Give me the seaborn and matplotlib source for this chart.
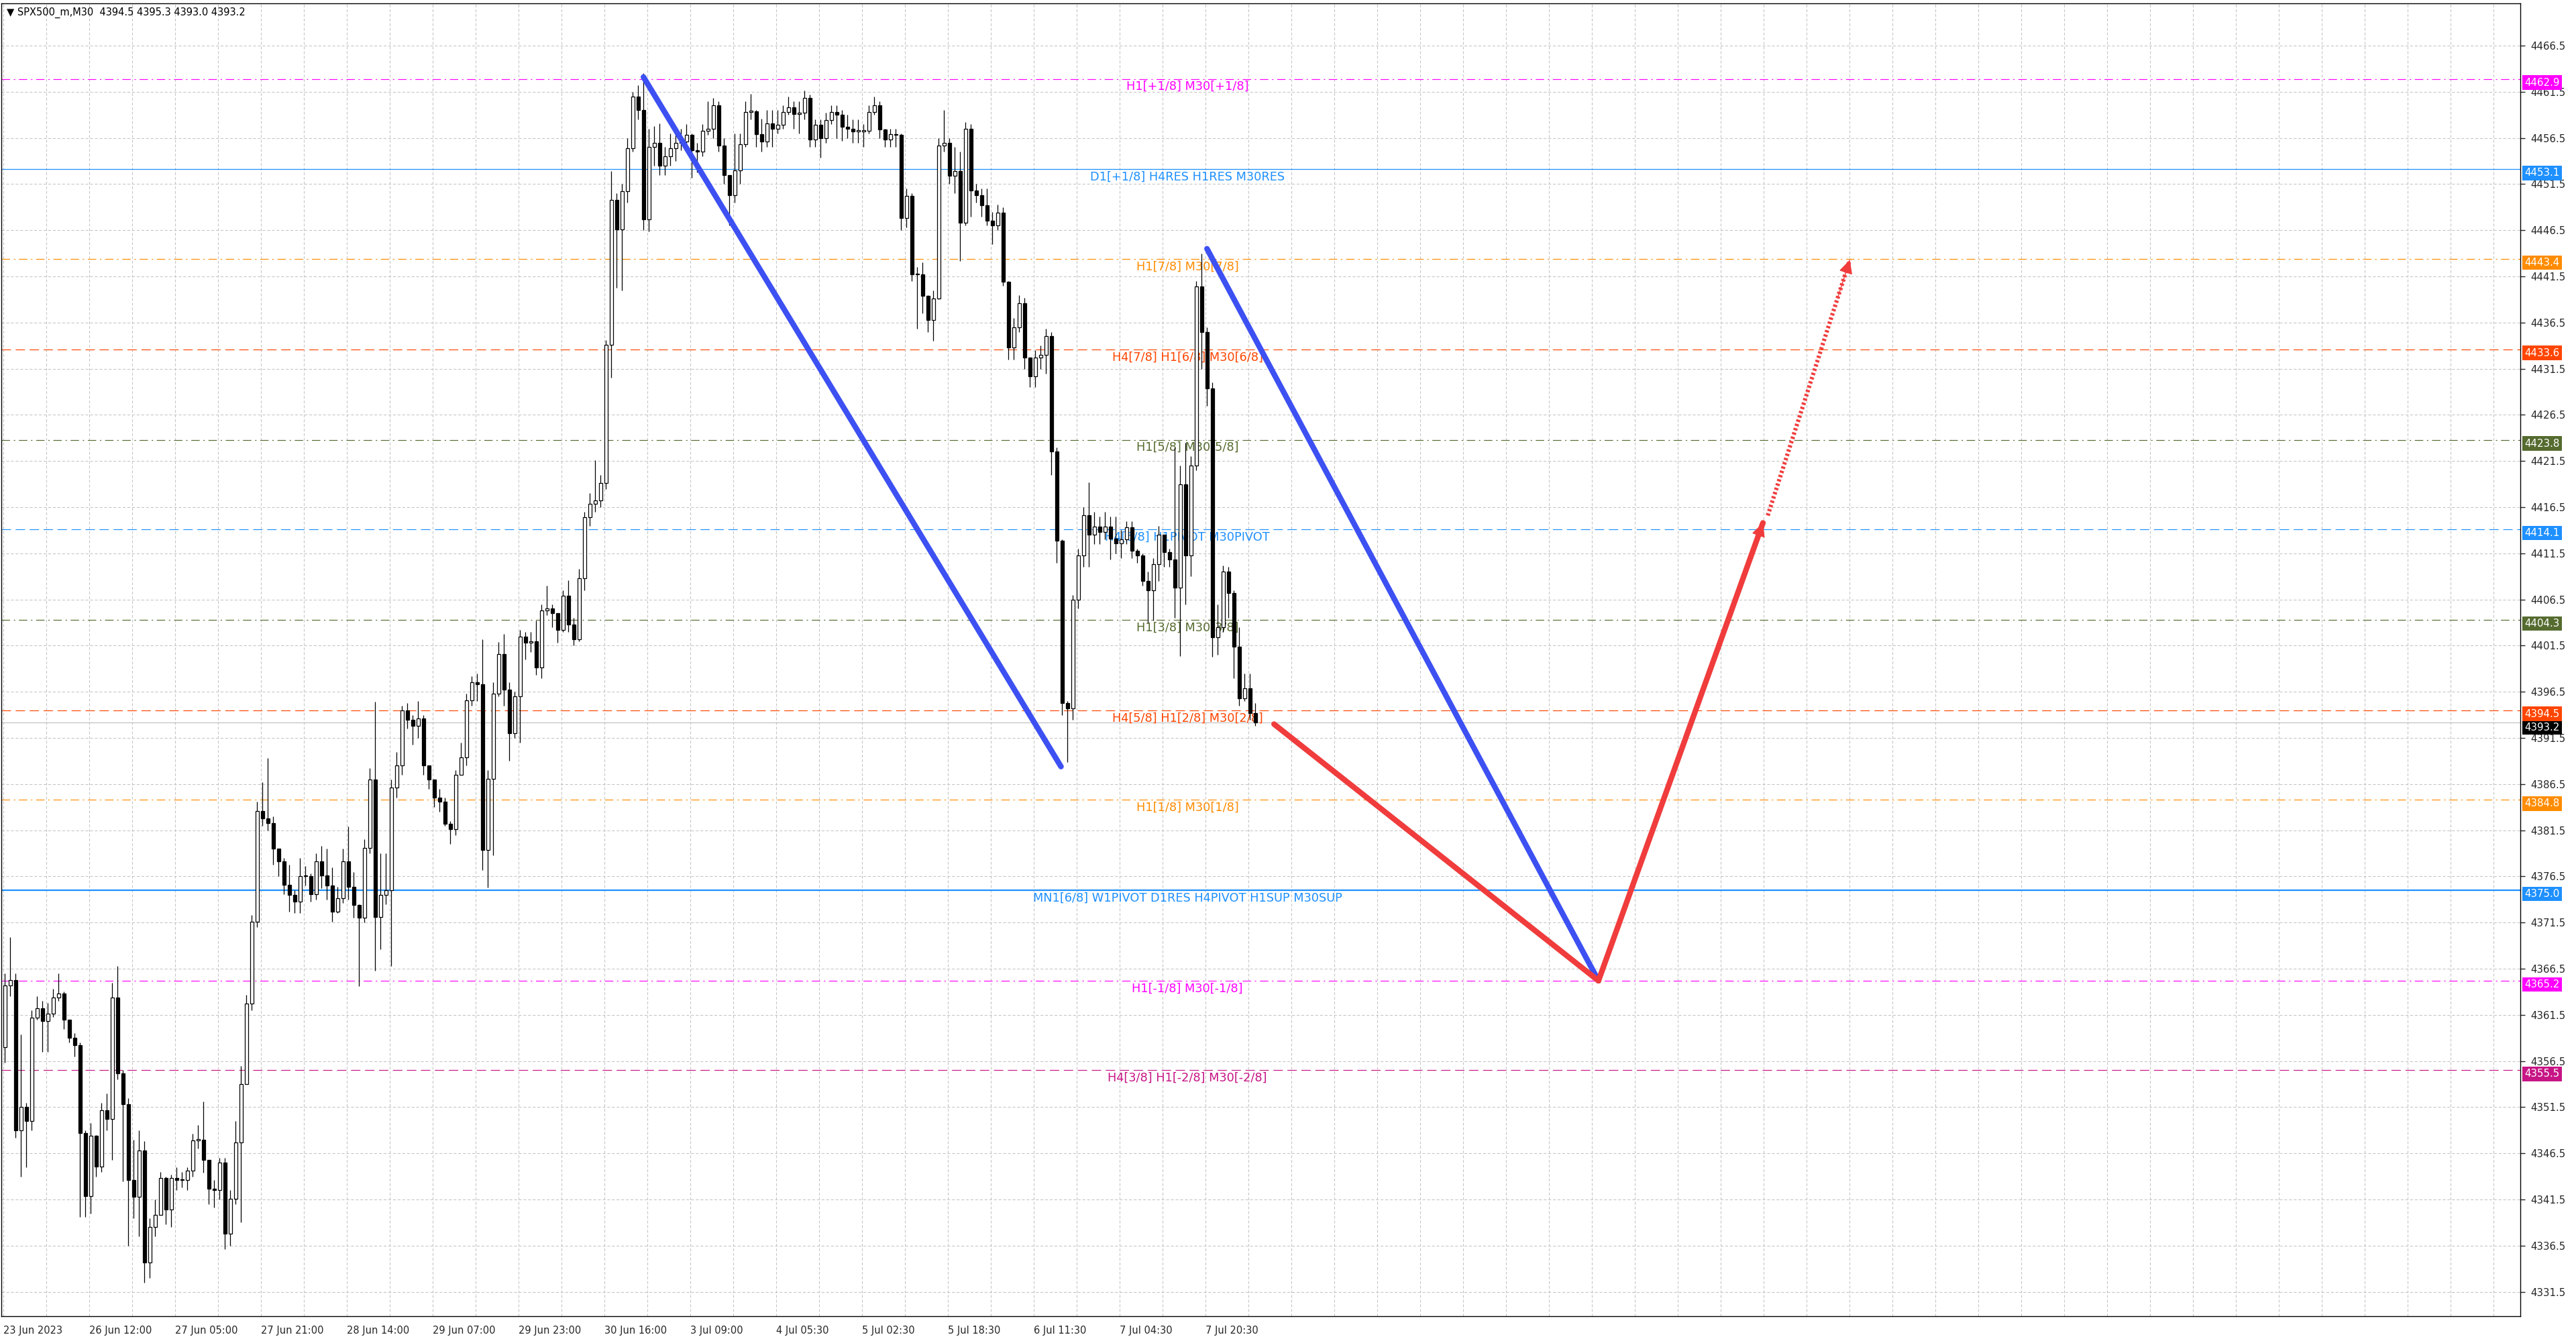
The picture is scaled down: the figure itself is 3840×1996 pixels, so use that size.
import matplotlib
matplotlib.use("Agg")
import matplotlib.pyplot as plt
import matplotlib.transforms as mtransforms
import numpy as np
import seaborn as sns

# SPX500_m M30 candles (two M30 bars per drawn candle)
first_open = 4358.0
closes = [
    4364.7, 4365.3, 4349.0, 4351.5, 4350.0, 4361.2, 4362.2, 4360.8, 4361.6, 4363.4,
    4363.8, 4361.0, 4359.0, 4358.2, 4348.7, 4341.9, 4348.4, 4345.1, 4351.2, 4350.2,
    4363.4, 4355.2, 4351.8, 4343.6, 4341.8, 4346.8, 4334.7, 4338.5, 4339.8, 4343.8,
    4340.4, 4343.8, 4343.6, 4343.6, 4344.6, 4347.9, 4348.0, 4345.8, 4342.7, 4342.5,
    4345.5, 4337.8, 4341.6, 4347.7, 4354.0, 4362.7, 4371.6, 4383.6, 4382.8, 4382.3,
    4379.5, 4378.1, 4375.6, 4374.5, 4373.8, 4376.5, 4376.5, 4374.6, 4378.1, 4376.6,
    4375.5, 4372.7, 4374.1, 4378.1, 4375.4, 4373.4, 4372.0, 4379.6, 4387.0, 4372.1,
    4374.5, 4375.0, 4386.1, 4388.5, 4394.5, 4393.5, 4392.8, 4393.6, 4388.5, 4387.0,
    4385.0, 4384.6, 4382.2, 4381.6, 4387.5, 4389.4, 4395.6, 4397.5, 4397.3, 4379.4,
    4387.1, 4396.3, 4400.6, 4396.7, 4392.0, 4396.0, 4402.5, 4401.8, 4402.0, 4399.1,
    4405.3, 4405.5, 4405.0, 4403.2, 4406.9, 4403.8, 4402.2, 4408.8, 4415.4, 4416.9,
    4417.2, 4419.1, 4434.1, 4449.8, 4446.6, 4450.7, 4455.4, 4461.0, 4459.5, 4447.7,
    4455.5, 4456.0, 4453.5, 4454.5, 4455.4, 4456.0, 4456.1, 4456.8, 4455.2, 4455.0,
    4457.3, 4457.5, 4460.0, 4455.7, 4452.5, 4450.3, 4453.0, 4455.8, 4459.3, 4459.4,
    4456.9, 4456.1, 4458.1, 4457.5, 4457.9, 4459.3, 4459.8, 4459.1, 4459.2, 4460.8,
    4456.3, 4457.9, 4456.5, 4458.4, 4459.3, 4459.0, 4457.7, 4457.5, 4457.2, 4457.2,
    4457.3, 4459.3, 4460.0, 4457.4, 4456.3, 4456.9, 4456.8, 4447.8, 4450.2, 4441.7,
    4441.7, 4439.4, 4436.8, 4439.1, 4455.7, 4456.0, 4452.4, 4452.9, 4447.3, 4457.5,
    4450.8, 4450.3, 4449.2, 4447.5, 4447.0, 4448.4, 4440.9, 4433.8, 4436.0, 4438.6,
    4432.7, 4430.7, 4432.7, 4433.0, 4435.0, 4422.5, 4412.9, 4395.3, 4394.7, 4406.5,
    4411.3, 4415.6, 4413.5, 4414.4, 4413.8, 4414.4, 4413.1, 4412.6, 4413.0, 4414.3,
    4411.8, 4411.3, 4408.5, 4407.5, 4410.3, 4413.5, 4411.6, 4410.8, 4407.8, 4419.0,
    4411.3, 4421.0, 4440.4, 4435.5, 4429.4, 4402.4, 4403.5, 4409.5, 4407.2, 4401.4,
    4395.8, 4396.9, 4394.2, 4393.2,
]
highs = [
    4366.0, 4369.9, 4366.0, 4359.4, 4352.0, 4362.0, 4363.5, 4363.0, 4362.8, 4364.3,
    4366.0, 4364.0, 4361.0, 4359.5, 4358.5, 4349.0, 4349.8, 4348.5, 4352.0, 4353.0,
    4365.0, 4366.8, 4355.5, 4352.5, 4348.0, 4349.0, 4347.8, 4339.5, 4341.5, 4344.5,
    4344.0, 4344.2, 4345.0, 4344.5, 4345.0, 4348.6, 4349.6, 4352.1, 4345.5, 4343.6,
    4346.0, 4346.0, 4342.5, 4350.0, 4356.0, 4363.7, 4372.3, 4384.6, 4386.7, 4389.3,
    4383.0, 4379.5, 4378.5, 4377.8, 4375.0, 4378.5, 4377.6, 4376.8, 4379.0, 4379.8,
    4379.5, 4377.5, 4375.4, 4379.5, 4381.9, 4377.0, 4373.5, 4380.5, 4388.2, 4395.4,
    4379.0, 4379.0, 4387.0, 4390.0, 4395.0, 4395.3, 4394.0, 4395.5, 4394.0, 4388.5,
    4387.0, 4386.0, 4385.0, 4382.5, 4388.0, 4391.0, 4396.3, 4398.2, 4398.5, 4402.2,
    4388.0, 4397.5, 4401.9, 4402.8, 4397.5, 4396.5, 4403.2, 4403.0, 4403.0, 4404.2,
    4406.0, 4408.0, 4406.0, 4405.0, 4407.5, 4408.6, 4404.5, 4409.8, 4416.0, 4418.0,
    4421.6, 4420.0, 4434.6, 4452.9, 4450.5, 4451.5, 4456.5, 4461.5, 4462.2, 4463.5,
    4457.5, 4457.8, 4458.1, 4455.5, 4457.0, 4457.0, 4457.5, 4458.0, 4457.0, 4456.0,
    4458.0, 4460.5, 4460.8, 4460.5, 4456.5, 4452.5, 4457.0, 4457.0, 4460.5, 4461.3,
    4459.5, 4458.6, 4459.5, 4459.5, 4459.5, 4460.0, 4461.0, 4460.5, 4460.5, 4461.6,
    4461.2, 4458.5, 4458.5, 4459.2, 4460.0, 4460.0, 4459.5, 4459.0, 4458.5, 4458.5,
    4458.0, 4460.0, 4461.0, 4460.5, 4457.5, 4457.5, 4457.5, 4457.0, 4451.0, 4450.5,
    4442.5, 4443.0, 4439.5, 4440.0, 4456.5, 4459.5, 4456.5, 4455.5, 4455.0, 4458.2,
    4458.0, 4451.5, 4451.0, 4451.0, 4448.5, 4449.3, 4449.0, 4441.0, 4437.0, 4439.5,
    4439.2, 4432.7, 4433.5, 4434.0, 4435.8, 4435.5, 4423.0, 4413.0, 4395.5, 4407.0,
    4412.0, 4416.5, 4419.2, 4416.0, 4415.5, 4416.0, 4415.5, 4415.5, 4414.0, 4415.0,
    4415.0, 4412.0, 4411.5, 4409.5, 4411.0, 4414.5, 4413.5, 4412.0, 4423.0, 4421.0,
    4423.5, 4422.0, 4441.0, 4444.0, 4436.0, 4430.0, 4406.0, 4410.2, 4410.0, 4407.5,
    4403.5, 4398.5, 4398.5, 4395.3,
]
lows = [
    4356.3, 4363.5, 4348.2, 4344.0, 4345.0, 4349.0, 4361.0, 4357.5, 4357.5, 4361.3,
    4363.0, 4360.0, 4358.5, 4357.0, 4339.6, 4339.6, 4340.0, 4344.0, 4344.5, 4349.0,
    4345.8, 4354.5, 4343.5, 4336.5, 4339.5, 4337.5, 4332.5, 4333.0, 4337.5, 4341.5,
    4338.8, 4338.5, 4342.5, 4342.8, 4342.5, 4344.0, 4347.0, 4344.4, 4341.0, 4340.6,
    4341.5, 4336.1, 4336.5, 4341.0, 4339.0, 4354.0, 4362.0, 4371.0, 4382.0, 4381.5,
    4377.8, 4376.5, 4374.6, 4372.7, 4372.5, 4372.5, 4375.5, 4373.8, 4374.0, 4375.2,
    4374.0, 4371.6, 4372.5, 4373.6, 4374.0, 4372.0, 4364.6, 4371.5, 4379.0, 4366.3,
    4368.6, 4373.5, 4366.8, 4385.0, 4387.5, 4392.5, 4390.8, 4391.5, 4387.5, 4386.0,
    4384.0, 4383.5, 4382.0, 4380.0, 4381.0, 4387.5, 4388.5, 4395.0, 4395.5, 4377.2,
    4375.3, 4378.8, 4396.0, 4395.0, 4389.0, 4391.5, 4391.0, 4400.0, 4400.8, 4398.3,
    4398.0, 4404.8, 4403.5, 4401.8, 4403.0, 4403.0, 4401.5, 4402.0, 4407.5, 4414.5,
    4416.0, 4416.5, 4418.5, 4430.5, 4440.3, 4440.0, 4449.5, 4455.0, 4458.5, 4446.5,
    4446.4, 4453.5, 4452.5, 4452.5, 4453.5, 4454.0, 4455.2, 4455.5, 4452.2, 4452.8,
    4454.5, 4456.8, 4456.5, 4455.0, 4451.5, 4447.0, 4449.5, 4451.5, 4455.5, 4458.5,
    4455.5, 4455.0, 4455.5, 4455.5, 4457.0, 4457.5, 4459.0, 4457.5, 4457.0, 4458.5,
    4455.5, 4455.5, 4454.4, 4456.0, 4458.0, 4456.5, 4456.2, 4456.5, 4456.0, 4456.0,
    4455.5, 4457.0, 4459.0, 4456.5, 4455.5, 4455.5, 4455.5, 4446.5, 4446.8, 4441.0,
    4435.8, 4437.5, 4435.5, 4434.5, 4439.0, 4455.0, 4451.5, 4450.5, 4443.2, 4447.0,
    4448.0, 4449.5, 4448.0, 4447.0, 4445.0, 4446.5, 4440.5, 4432.5, 4432.5, 4435.5,
    4431.5, 4429.5, 4429.5, 4431.5, 4431.0, 4420.0, 4410.5, 4394.0, 4388.9, 4393.5,
    4405.5, 4410.0, 4410.0, 4412.5, 4412.5, 4413.0, 4410.8, 4411.5, 4411.0, 4412.5,
    4411.0, 4410.5, 4408.0, 4404.0, 4404.2, 4408.5, 4410.0, 4410.0, 4404.5, 4400.4,
    4406.0, 4409.0, 4420.5, 4431.5, 4427.5, 4400.3, 4400.5, 4403.0, 4404.5, 4398.0,
    4395.0, 4395.5, 4393.5, 4392.8,
]

# Murrey-math style levels drawn across the chart
level_prices = [4462.9, 4453.1, 4443.4, 4433.6, 4423.8, 4414.1,
                4404.3, 4394.5, 4384.8, 4375.0, 4365.2, 4355.5]
level_labels = [
    "H1[+1/8] M30[+1/8]",
    "D1[+1/8] H4RES H1RES M30RES",
    "H1[7/8] M30[7/8]",
    "H4[7/8] H1[6/8] M30[6/8]",
    "H1[5/8] M30[5/8]",
    "H4[6/8] H1PIVOT M30PIVOT",
    "H1[3/8] M30[3/8]",
    "H4[5/8] H1[2/8] M30[2/8]",
    "H1[1/8] M30[1/8]",
    "MN1[6/8] W1PIVOT D1RES H4PIVOT H1SUP M30SUP",
    "H1[-1/8] M30[-1/8]",
    "H4[3/8] H1[-2/8] M30[-2/8]",
]
bid_price = 4393.2

# hand-drawn trend lines (bar index, price)
blue1_x, blue1_y = [239.8, 395.4], [4463.1, 4388.4]
blue2_x, blue2_y = [449.8, 595.7], [4444.5, 4365.2]
red1_x, red1_y = [474.8, 595.7], [4393.0, 4365.2]
red2_x, red2_y = [595.7, 657.0], [4365.2, 4414.8]
red3_x, red3_y = [658.8, 689.4], [4415.6, 4443.3]

time_labels = ["23 Jun 2023", "26 Jun 12:00", "27 Jun 05:00", "27 Jun 21:00",
               "28 Jun 14:00", "29 Jun 07:00", "29 Jun 23:00", "30 Jun 16:00",
               "3 Jul 09:00", "4 Jul 05:30", "5 Jul 02:30", "5 Jul 18:30",
               "6 Jul 11:30", "7 Jul 04:30", "7 Jul 20:30"]

header = "SPX500_m,M30  4394.5 4395.3 4393.0 4393.2"

# ---- styles ----
MAGENTA, DBLUE, DORANGE = "#FF00FF", "#1E90FF", "#FF8C00"
ORED, OLIVE, MVRED = "#FF4500", "#556B2F", "#C71585"
level_colors = [MAGENTA, DBLUE, DORANGE, ORED, OLIVE, DBLUE,
                OLIVE, ORED, DORANGE, DBLUE, MAGENTA, MVRED]
DASHDOT = (0, (9, 4, 1.5, 4))
DASHED = (0, (10, 5))
level_styles = [DASHDOT, "-", DASHDOT, DASHED, DASHDOT, DASHED,
                DASHDOT, DASHED, DASHDOT, "-", DASHDOT, DASHED]
level_widths = [0.85, 0.9, 0.85, 0.85, 0.85, 0.85, 0.85, 0.85, 0.85, 1.6, 0.85, 0.85]
BLUE_PEN = "#3D50F2"
RED_PEN = "#F03C3C"

sns.set_style("white")
plt.rcParams["font.family"] = ["DejaVu Sans"]
plt.rcParams["lines.scale_dashes"] = False

W, H = 3840, 1996
fig = plt.figure(figsize=(W / 100, H / 100), dpi=100)
fig.patch.set_facecolor("white")
ax = fig.add_axes([2 / W, 1 - 1962 / H, 3755 / W, 1957 / H])
ax.set_facecolor("white")

n = len(closes)
xs = 2 * np.arange(n) + 1.75
c = np.array(closes)
o = np.r_[first_open, c[:-1]]
h = np.array(highs)
l = np.array(lows)
up = c >= o

# grid + axes ranges
ax.set_xlim(0.5, 939.25)
ax.set_ylim(4328.86, 4471.08)
major_x = [1.2] + [33.2 + 32 * k for k in range(len(time_labels) - 1)]
minor_x = [1.2 + 16 * k for k in range(59)]
ax.set_xticks(major_x)
ax.set_xticklabels(time_labels, ha="left", fontsize=10.5)
ax.set_xticks(minor_x, minor=True)
yt = np.arange(4331.5, 4467.0, 5.0)
ax.set_yticks(yt)
ax.set_yticklabels([f"{v:.1f}" for v in yt], fontsize=10.8)
ax.yaxis.tick_right()
ax.tick_params(axis="x", which="major", length=5, width=1, pad=5, direction="out")
ax.tick_params(axis="x", which="minor", length=0)
ax.tick_params(axis="y", length=5, width=1, pad=6, direction="out")
ax.grid(True, which="both", axis="x", color="#C4C4C4", ls=(0, (3, 2)), lw=0.75)
ax.grid(True, which="major", axis="y", color="#C4C4C4", ls=(0, (3, 2)), lw=0.75)
ax.set_axisbelow(True)
for s in ax.spines.values():
    s.set_color("black")
    s.set_linewidth(1.0)

# levels
for p, lab, col, ls, lw in zip(level_prices, level_labels, level_colors,
                               level_styles, level_widths):
    ax.axhline(p, color=col, ls=ls, lw=lw, zorder=1.5)
    ax.annotate(lab, xy=(442.5, p), xytext=(0, -8.3), textcoords="offset points",
                ha="center", va="center", color=col, fontsize=12.8, zorder=2)
ax.axhline(bid_price, color="#BDBDBD", lw=0.8, zorder=1.5)

# candles
ax.vlines(xs, l, h, color="black", lw=0.9, zorder=3)
body_lo = np.minimum(o, c)
body_h = np.maximum(np.abs(c - o), 0.12)
ax.bar(xs[up], body_h[up], bottom=body_lo[up], width=1.25, facecolor="white",
       edgecolor="black", lw=0.9, zorder=4)
ax.bar(xs[~up], body_h[~up], bottom=body_lo[~up], width=1.25, facecolor="black",
       edgecolor="black", lw=0.9, zorder=4)

# trend lines
for lx, ly, col in [(blue1_x, blue1_y, BLUE_PEN), (blue2_x, blue2_y, BLUE_PEN),
                    (red1_x, red1_y, RED_PEN), (red2_x, red2_y, RED_PEN)]:
    sns.lineplot(x=lx, y=ly, ax=ax, color=col, lw=6, solid_capstyle="round",
                 legend=False, zorder=6)
sns.lineplot(x=red3_x, y=red3_y, ax=ax, color=RED_PEN, lw=4.5, ls=(0, (2.4, 2.4)),
             legend=False, zorder=6)
for lx, ly in [(red2_x, red2_y), (red3_x, red3_y)]:
    tip = (lx[1], ly[1])
    back = (lx[1] - 0.15 * (lx[1] - lx[0]), ly[1] - 0.15 * (ly[1] - ly[0]))
    ax.annotate("", xy=tip, xytext=back,
                arrowprops=dict(arrowstyle="-|>", color=RED_PEN, lw=1,
                                mutation_scale=32, shrinkA=0, shrinkB=0),
                zorder=7)

# price boxes on the right scale
trans = mtransforms.blended_transform_factory(ax.transAxes, ax.transData)
box_x = 1 + 6 / 3755
ax.text(box_x, bid_price - 0.55, f"{bid_price:.1f}", transform=trans, ha="left",
        va="center", color="white", fontsize=10.8, clip_on=False, zorder=10,
        bbox=dict(boxstyle="square,pad=0.22", fc="black", ec="none"))
for p, col in zip(level_prices, level_colors):
    ax.text(box_x, p - 0.4, f"{p:.1f}", transform=trans, ha="left", va="center",
            color="white", fontsize=10.8, clip_on=False, zorder=11,
            bbox=dict(boxstyle="square,pad=0.22", fc=col, ec="none"))

fig.text(10 / W, 1 - 19 / H, "\u25BC " + header, ha="left", va="center",
         fontsize=10.5, color="black")

fig.savefig("out.png", dpi=100)
